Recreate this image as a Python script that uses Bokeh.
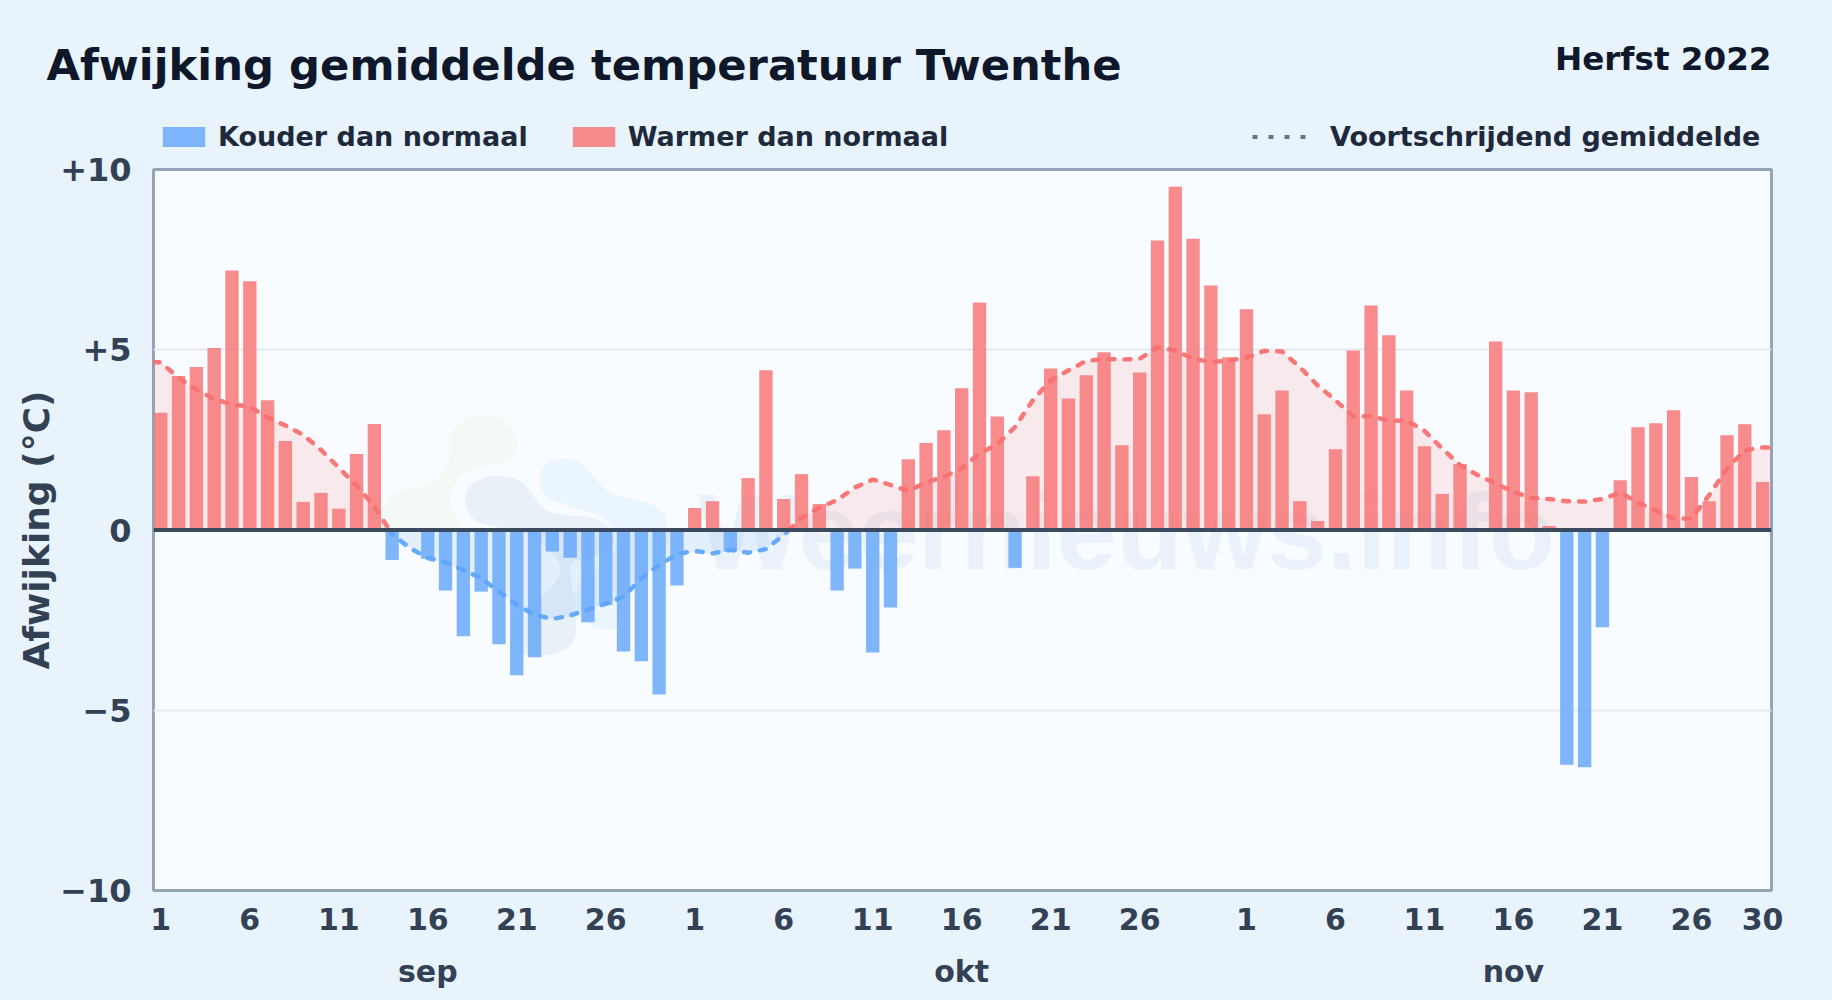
from bokeh.plotting import figure
from bokeh.layouts import column
from bokeh.models import (ColumnDataSource, FixedTicker, Label, Legend, LegendItem, LinearAxis,
                          Range1d, Span)
from bokeh.core.properties import value
from bokeh.embed import file_html
from bokeh.resources import INLINE
import numpy as np

# ---- data -------------------------------------------------------------
anomaly = [
    # sep
    3.25, 4.27, 4.52, 5.05, 7.20, 6.90, 3.60, 2.47, 0.78, 1.03, 0.59, 2.11, 2.94, -0.83, 0.0,
    -0.80, -1.68, -2.95, -1.71, -3.17, -4.03, -3.53, -0.60, -0.77, -2.56, -2.08, -3.37, -3.64, -4.56, -1.54,
    # okt
    0.61, 0.80, -0.60, 1.44, 4.43, 0.86, 1.55, 0.72, -1.68, -1.07, -3.40, -2.15, 1.96, 2.41, 2.77, 3.93,
    6.31, 3.15, -1.05, 1.49, 4.48, 3.65, 4.29, 4.93, 2.35, 4.37, 8.03, 9.52, 8.08, 6.78, 4.79,
    # nov
    6.12, 3.21, 3.87, 0.80, 0.25, 2.24, 4.98, 6.23, 5.40, 3.87, 2.32, 1.00, 1.83, 0.0, 5.23,
    3.87, 3.82, 0.11, -6.51, -6.58, -2.70, 1.38, 2.85, 2.96, 3.32, 1.47, 0.80, 2.63, 2.93, 1.33,
]
moving_avg = [
    # sep
    4.65, 4.22, 3.90, 3.63, 3.49, 3.42, 3.12, 2.90, 2.64, 2.22, 1.73, 1.23, 0.66, -0.12, -0.50,
    -0.78, -0.90, -1.11, -1.34, -1.71, -2.08, -2.35, -2.47, -2.37, -2.21, -2.05, -1.85, -1.34, -0.97, -0.67,
    # okt
    -0.58, -0.65, -0.55, -0.63, -0.53, -0.14, 0.34, 0.62, 0.83, 1.18, 1.40, 1.25, 1.08, 1.32, 1.48, 1.71,
    2.12, 2.38, 2.86, 3.60, 4.15, 4.43, 4.69, 4.75, 4.73, 4.75, 5.07, 4.98, 4.75, 4.66, 4.70,
    # nov
    4.78, 4.97, 4.95, 4.52, 4.01, 3.60, 3.15, 3.16, 3.03, 3.04, 2.75, 2.26, 1.80, 1.52, 1.29,
    1.06, 0.89, 0.86, 0.80, 0.79, 0.86, 1.04, 0.76, 0.54, 0.32, 0.32, 0.97, 1.71, 2.21, 2.29,
]
x_tick_labels = {0: "1", 5: "6", 10: "11", 15: "16", 20: "21", 25: "26",
                 30: "1", 35: "6", 40: "11", 45: "16", 50: "21", 55: "26",
                 61: "1", 66: "6", 71: "11", 76: "16", 81: "21", 86: "26", 90: "30"}
month_labels = {15: "sep", 45: "okt", 76: "nov"}
y_tick_labels = {10: "+10", 5: "+5", 0: "0", -5: "\u22125", -10: "\u221210"}

TITLE = "Afwijking gemiddelde temperatuur Twenthe"
SUBTITLE = "Herfst 2022"
WATERMARK = "Weernieuws.info"

RED = "#f87171"
BLUE = "#60a5fa"
PAGE_BG = "#e8f3fc"
PLOT_BG = "#f8fbff"
FONT = "DejaVu Sans"
INK = "#334155"

# ---- layout -----------------------------------------------------------
W, H = 1832, 1000
HEAD = 152                       # header strip with title and legends
LEFT, RIGHT, TOP, BOTTOM = 153, 61, 17, 110
X0, X1 = -0.41, 90.5
p = figure(width=W, height=H - HEAD, output_backend="svg", toolbar_location=None,
           x_range=Range1d(X0, X1), y_range=Range1d(-10, 10),
           min_border_left=LEFT, min_border_right=RIGHT, min_border_top=TOP, min_border_bottom=BOTTOM,
           frame_width=W - LEFT - RIGHT, frame_height=H - HEAD - TOP - BOTTOM,
           background_fill_color=PLOT_BG, border_fill_color=PAGE_BG, frame_align=False)
p.outline_line_color = "#94a3b8"
p.outline_line_width = 3

# ---- axes -------------------------------------------------------------
xa = p.xaxis[0]
xa.ticker = FixedTicker(ticks=list(x_tick_labels))
xa.major_label_overrides = x_tick_labels
xa.axis_line_color = None
xa.major_tick_line_color = None
xa.minor_tick_line_color = None
xa.major_label_text_font = FONT
xa.major_label_text_font_style = "bold"
xa.major_label_text_font_size = "30px"
xa.major_label_text_color = INK
xa.major_label_standoff = 11

ma = LinearAxis(ticker=FixedTicker(ticks=list(month_labels)), major_label_overrides=month_labels)
ma.axis_line_color = None
ma.major_tick_line_color = None
ma.minor_tick_line_color = None
ma.major_label_text_font = FONT
ma.major_label_text_font_style = "bold"
ma.major_label_text_font_size = "30px"
ma.major_label_text_color = INK
ma.major_label_standoff = 15
p.add_layout(ma, "below")

ya = p.yaxis[0]
ya.ticker = FixedTicker(ticks=list(y_tick_labels))
ya.major_label_overrides = y_tick_labels
ya.axis_line_color = None
ya.major_tick_line_color = None
ya.minor_tick_line_color = None
ya.major_label_text_font = FONT
ya.major_label_text_font_style = "bold"
ya.major_label_text_font_size = "32px"
ya.major_label_text_color = INK
ya.major_label_standoff = 16
ya.axis_label = "Afwijking (\u00b0C)"
ya.axis_label_text_font = FONT
ya.axis_label_text_font_style = "bold"
ya.axis_label_text_font_size = "36px"
ya.axis_label_text_color = INK
ya.axis_label_standoff = 0

p.xgrid.visible = False
p.ygrid.ticker = FixedTicker(ticks=[-5, 5])
p.ygrid.grid_line_color = "#e3e9ee"
p.ygrid.grid_line_width = 2

# ---- watermark (decoration, faint logo + text behind the data) --------
plot_px = (W - LEFT - RIGHT) / (X1 - X0)


def px2x(px):
    return (np.asarray(px, float) - LEFT) / plot_px + X0


def px2y(py):
    return (529.5 - np.asarray(py, float)) / 36.05


def chaikin(pts, rounds=3):
    pts = np.asarray(pts, float)
    for _ in range(rounds):
        nxt = np.roll(pts, -1, axis=0)
        pts = np.stack([0.75 * pts + 0.25 * nxt, 0.25 * pts + 0.75 * nxt], axis=1).reshape(-1, 2)
    return pts


blob_green = [(235, 95), (290, 48), (370, 40), (430, 80), (445, 130), (425, 185), (280, 205), (240, 270),
              (245, 340), (290, 388), (35, 388), (35, 320), (70, 275), (170, 255), (225, 215), (240, 160)]
blob_grey = [(275, 280), (330, 228), (420, 225), (470, 255), (510, 320), (560, 345), (650, 345), (720, 375),
             (740, 440), (640, 480), (590, 480), (625, 680), (600, 745), (510, 770), (430, 755), (415, 640),
             (520, 590), (575, 520), (560, 470), (480, 400), (380, 380), (300, 360)]
blob_blue = [(500, 225), (540, 175), (620, 175), (670, 230), (720, 285), (820, 300), (880, 330), (900, 400),
             (880, 470), (760, 560), (750, 690), (680, 685), (610, 640), (600, 590), (640, 530), (720, 475),
             (745, 400), (700, 345), (600, 320), (520, 290)]
for blob, col in ((blob_green, "#f3f9f4"), (blob_blue, "#eaf5fe"), (blob_grey, "#e8f0f8")):
    b = chaikin(blob)
    p.patch(px2x(370 + b[:, 0] / 3), px2y(400 + b[:, 1] / 3), fill_color=col, line_color=None)

p.text(x=[float(px2x(698))], y=[float(px2y(531))], text=[WATERMARK], text_font=value("Liberation Sans"),
       text_font_style="bold", text_font_size="108px", text_color="#e9f2fa",
       text_baseline="alphabetic", text_align="left")

# ---- moving-average area and line, split at the zero crossings --------
idx = np.arange(len(moving_avg), dtype=float)
ma_vals = np.asarray(moving_avg, float)
xs, ys = [X0, idx[0]], [ma_vals[0], ma_vals[0]]
for i in range(1, len(idx)):
    if ma_vals[i - 1] * ma_vals[i] < 0:
        t = ma_vals[i - 1] / (ma_vals[i - 1] - ma_vals[i])
        xs.append(idx[i - 1] + t)
        ys.append(0.0)
    xs.append(idx[i])
    ys.append(ma_vals[i])
xs.append(X1)
ys.append(ma_vals[-1])
xs, ys = np.array(xs), np.array(ys)
pos = np.maximum(ys, 0)
neg = np.minimum(ys, 0)
p.varea(x=xs, y1=0, y2=pos, fill_color=RED, fill_alpha=0.13)
p.varea(x=xs, y1=0, y2=neg, fill_color=BLUE, fill_alpha=0.13)

# ---- bars -------------------------------------------------------------
an = np.asarray(anomaly, float)
warm = ColumnDataSource(dict(x=idx[an > 0], top=an[an > 0]))
cold = ColumnDataSource(dict(x=idx[an < 0], top=an[an < 0]))
BAR = dict(bottom=0, width=0.75, fill_alpha=0.8, line_color=None)
p.vbar(x="x", top="top", source=cold, fill_color=BLUE, **BAR)
p.vbar(x="x", top="top", source=warm, fill_color=RED, **BAR)

# ---- line segments ------------------------------------------------------
sign = np.sign(ys)
start = 0
for i in range(1, len(xs)):
    if sign[i] == 0 or i == len(xs) - 1:
        seg_x, seg_y = xs[start:i + 1], ys[start:i + 1]
        col = RED if seg_y.sum() > 0 else BLUE
        p.line(seg_x, seg_y, line_color=col, line_width=4.5, line_dash="6 10", line_cap="round", line_alpha=0.95)
        start = i

p.add_layout(Span(location=0, dimension="width", line_color="#3b4a5e", line_width=4, level="overlay"))

# ---- header strip: title, period and legends ---------------------------
head = figure(width=W, height=HEAD, output_backend="svg", toolbar_location=None,
              x_range=Range1d(0, W), y_range=Range1d(0, HEAD), x_axis_type=None, y_axis_type=None,
              min_border=0, min_border_left=0, min_border_right=0, min_border_top=0, min_border_bottom=0,
              background_fill_color=PAGE_BG, border_fill_color=PAGE_BG, frame_align=False)
head.outline_line_color = None
head.grid.visible = False

# key-only renderers: one sample each, outside the strip's visible range
r_k = head.vbar(x=[-500], top=[-500], bottom=-501, width=1, fill_color=BLUE, fill_alpha=0.8, line_color=None)
r_w = head.vbar(x=[-500], top=[-500], bottom=-501, width=1, fill_color=RED, fill_alpha=0.8, line_color=None)
r_m = head.line(x=[-500, -499], y=[-500, -500], line_color="#64748b", line_width=4, line_dash="5 11")


def make_legend(items, loc, glyph_w, standoff, spacing):
    lg = Legend(items=items, location=loc, orientation="horizontal", background_fill_alpha=0,
                border_line_color=None, padding=0, margin=0, spacing=spacing,
                glyph_width=glyph_w, glyph_height=25, label_standoff=standoff,
                label_text_font=FONT, label_text_font_style="bold", label_text_font_size="27px",
                label_text_color="#1e293b", label_height=19)
    head.add_layout(lg)
    return lg


make_legend([LegendItem(label="Kouder dan normaal", renderers=[r_k]),
             LegendItem(label="Warmer dan normaal", renderers=[r_w])], (157, 0), 53, 8, 39)
make_legend([LegendItem(label="Voortschrijdend gemiddelde", renderers=[r_m])], (1252, 0), 55, 23, 39)

head.add_layout(Label(x=46, y=HEAD - 64, text=TITLE, text_font=FONT,
                      text_font_style="bold", text_font_size="43.3px", text_color="#0f172a",
                      text_baseline="alphabetic"))
head.add_layout(Label(x=1771, y=HEAD - 58, text=SUBTITLE, text_font=FONT,
                      text_font_style="bold", text_font_size="32.6px", text_color="#0f172a",
                      text_align="right", text_baseline="alphabetic"))

root = column(head, p, spacing=0)
html = file_html(root, INLINE)
html = html.replace("<body>", f'<body style="background:{PAGE_BG}">')
open("out.html", "w").write(html)
